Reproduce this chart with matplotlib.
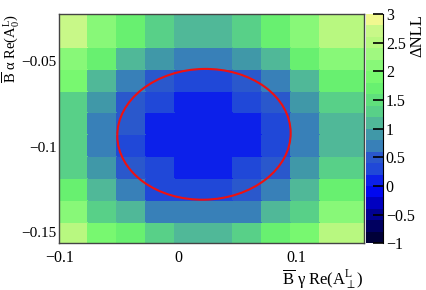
import matplotlib
matplotlib.use('Agg')
from matplotlib import pyplot as plt
from matplotlib.colors import ListedColormap, BoundaryNorm
from matplotlib.patches import Ellipse
import numpy as np

plt.rcParams['font.family'] = ['Liberation Serif', 'DejaVu Serif']
plt.rcParams['mathtext.fontset'] = 'custom'
plt.rcParams['mathtext.rm'] = 'Liberation Serif'
plt.rcParams['mathtext.it'] = 'Liberation Serif:italic'
plt.rcParams['mathtext.fallback'] = 'stix'

# bin edges
x_edges = [-0.1, -0.0756, -0.0511, -0.0267, -0.0022, 0.0222, 0.0467, 0.0711, 0.0955, 0.1199, 0.1565]
y_edges = [-0.1564, -0.1437, -0.1310, -0.1182, -0.1055, -0.0928, -0.0800, -0.0673, -0.0546, -0.0418, -0.0226]

# delta NLL per cell, rows from bottom to top
dnll = [
    [2.5, 1.9, 1.7, 1.3, 1.1, 1.1, 1.3, 1.7, 1.9, 2.5],
    [2.1, 1.3, 1.1, 0.7, 0.7, 0.7, 0.7, 1.1, 1.3, 2.1],
    [1.7, 1.1, 0.7, 0.3, 0.3, 0.3, 0.5, 0.7, 1.1, 1.7],
    [1.3, 0.9, 0.5, 0.3, 0.1, 0.1, 0.3, 0.5, 0.9, 1.3],
    [1.3, 0.7, 0.3, 0.1, 0.1, 0.1, 0.1, 0.3, 0.7, 1.1],
    [1.3, 0.7, 0.5, 0.1, 0.1, 0.1, 0.1, 0.3, 0.7, 1.1],
    [1.3, 0.9, 0.5, 0.3, 0.1, 0.1, 0.3, 0.5, 0.9, 1.3],
    [1.9, 1.1, 0.7, 0.5, 0.3, 0.3, 0.5, 0.7, 1.1, 1.7],
    [2.1, 1.7, 1.1, 0.9, 0.7, 0.7, 0.9, 1.1, 1.7, 2.1],
    [2.65, 2.1, 1.7, 1.3, 1.1, 1.1, 1.3, 1.7, 2.1, 2.5],
]

# 1 sigma contour
ell_center = (0.0219, -0.0928)
ell_width = 0.1463
ell_height = 0.0763

band_colors = ['#000038', '#000060', '#000090', '#0000c0', '#0008f0',
               '#0c20ea', '#2048d8', '#2a58cc', '#3880b8', '#4098a8',
               '#50b898', '#58d088', '#60e07c', '#68f070', '#78f870',
               '#88f878', '#a0f880', '#b8f880', '#c8f888', '#f0f890']
levels = np.linspace(-1, 3, 21)
cmap = ListedColormap(band_colors)
norm = BoundaryNorm(levels, cmap.N)

fig = plt.figure(figsize=(4.27, 2.90), dpi=100)
ax = fig.add_axes([0.1393, 0.161, 0.712, 0.7907])
cax = fig.add_axes([0.857, 0.161, 0.040, 0.7907])

mesh = ax.pcolormesh(x_edges, y_edges, np.array(dnll), cmap=cmap, norm=norm,
                     edgecolors='face', linewidth=0.3)
ax.add_patch(Ellipse(ell_center, ell_width, ell_height, angle=0.75,
                     fill=False, edgecolor='#ee1111', linewidth=1.5))

ax.set_xlim(x_edges[0], x_edges[-1])
ax.set_ylim(y_edges[0], y_edges[-1])
ax.set_xticks([-0.1, 0, 0.1])
ax.set_xticklabels(['\u22120.1', '0', '0.1'])
ax.set_yticks([-0.15, -0.1, -0.05])
ax.set_yticklabels(['\u22120.15', '\u22120.1', '\u22120.05'])
ax.tick_params(length=0, labelsize=11.5, pad=3)
ax.tick_params(axis='y', labelsize=11, pad=2)
ax.tick_params(axis='x', pad=5)
for s in ax.spines.values():
    s.set_color('#444444')
    s.set_linewidth(1.0)

ax.set_xlabel(r'$\overline{\mathrm{B}}\ \mathrm{\gamma\ Re(A}^{\mathrm{L}}_{\perp}\mathrm{)}$',
              fontsize=12, loc='right')
ax.xaxis.set_label_coords(1.0, -0.105)
ax.set_ylabel(r'$\overline{\mathrm{B}}\ \mathrm{\alpha\ Re(A}^{\mathrm{L}}_{0}\mathrm{)}$',
              fontsize=10.5, loc='top')
ax.yaxis.set_label_coords(-0.127, 1.0)

cb = fig.colorbar(mesh, cax=cax, ticks=[-1, -0.5, 0, 0.5, 1, 1.5, 2, 2.5, 3])
cb.ax.set_yticklabels(['\u22121', '\u22120.5', '0', '0.5', '1', '1.5', '2', '2.5', '3'])
cb.ax.tick_params(direction='in', length=7, width=1.2, labelsize=11.5, pad=2,
                  colors='black')
cb.ax.minorticks_off()
cb.outline.set_visible(False)
cb.ax.spines['right'].set_visible(True)
cb.set_label('\u0394NLL', fontsize=12, loc='top')
cb.ax.yaxis.set_label_coords(2.55, 1.0)

fig.savefig('out.png', dpi=100)
